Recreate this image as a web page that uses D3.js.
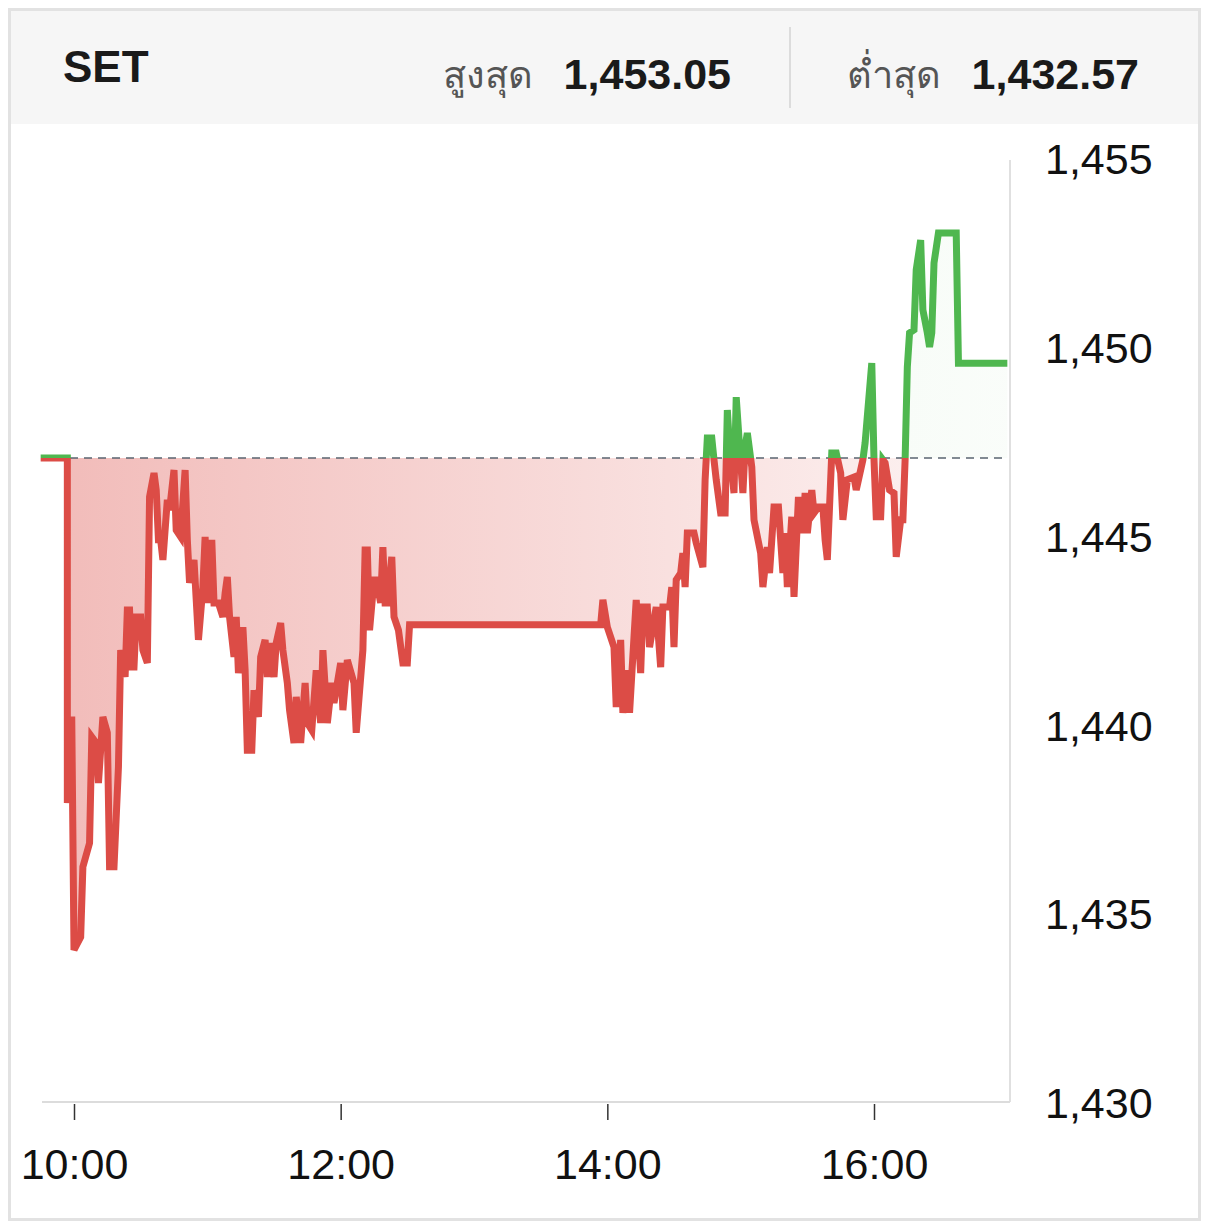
<!DOCTYPE html>
<html>
<head>
<meta charset="utf-8">
<script src="https://cdn.jsdelivr.net/npm/d3@7"></script>
<style>
  html, body { margin: 0; padding: 0; background: #fff; }
  svg { display: block; }
</style>
</head>
<body>
<svg id="chart" width="1215" height="1226"></svg>
<script>
// ---- Data ----
const title = "SET";
const highLabel = "สูงสุด";
const highValue = "1,453.05";
const lowLabel = "ต่ำสุด";
const lowValue = "1,432.57";
const prevClose = 1447.11;

const times = ["09:45","09:57","09:57","09:58","09:59","10:00","10:03","10:04","10:07","10:08",
"10:10","10:11","10:13","10:15","10:16","10:18","10:20","10:21","10:23","10:24",
"10:25","10:26","10:27","10:28","10:30","10:31","10:33","10:34","10:36","10:37",
"10:38","10:39","10:40","10:42","10:43","10:45","10:46","10:48","10:50","10:51",
"10:52","10:54","10:56","10:58","10:59","11:00","11:02","11:03","11:05","11:07",
"11:08","11:09","11:10","11:12","11:13","11:14","11:16","11:17","11:18","11:20",
"11:21","11:23","11:24","11:26","11:27","11:28","11:30","11:31","11:33","11:34",
"11:36","11:37","11:39","11:40","11:42","11:44","11:45","11:47","11:49","11:51",
"11:52","11:54","11:56","11:57","12:00","12:01","12:03","12:06","12:07","12:10",
"12:11","12:12","12:13","12:15","12:16","12:18","12:19","12:20","12:21","12:23",
"12:24","12:26","12:28","12:30","12:31","13:57","13:58","14:00","14:03","14:04",
"14:06","14:07","14:09","14:10","14:12","14:13","14:15","14:16","14:18","14:19",
"14:21","14:22","14:24","14:25","14:28","14:29","14:30","14:31","14:33","14:34",
"14:35","14:36","14:39","14:40","14:43","14:44","14:45","14:47","14:48","14:49",
"14:51","14:53","14:54","14:55","14:57","14:58","14:59","15:01","15:02","15:03",
"15:05","15:06","15:09","15:10","15:12","15:13","15:15","15:17","15:19","15:20",
"15:21","15:23","15:24","15:26","15:28","15:29","15:30","15:32","15:33","15:35",
"15:37","15:38","15:39","15:41","15:43","15:45","15:46","15:48","15:51","15:52",
"15:55","15:56","15:59","16:00","16:01","16:03","16:04","16:05","16:07","16:09",
"16:10","16:12","16:13","16:14","16:15","16:16","16:18","16:19","16:21","16:22",
"16:24","16:25","16:26","16:27","16:29","16:37","16:38","17:00"];

const values = [1447.11,1447.11,1437.97,1440.17,1440.17,1434.08,1434.42,1436.28,1436.91,1439.72,
1439.56,1438.50,1440.25,1439.83,1436.28,1436.28,1438.93,1442.02,1441.31,1443.08,
1443.08,1441.57,1441.57,1442.90,1442.90,1442.02,1441.68,1446.08,1446.71,1446.26,
1444.94,1444.94,1444.41,1446.00,1445.73,1446.79,1445.20,1445.02,1446.79,1444.94,
1443.80,1444.41,1442.29,1443.69,1445.02,1443.27,1444.94,1443.27,1443.27,1442.90,
1443.53,1443.96,1442.90,1441.84,1442.90,1441.41,1442.63,1441.49,1439.37,1439.37,
1440.96,1440.25,1441.84,1442.29,1441.31,1442.21,1441.31,1442.21,1442.74,1442.02,
1441.15,1440.43,1439.56,1440.78,1439.56,1441.15,1440.09,1439.90,1441.49,1440.09,
1442.02,1440.09,1441.15,1440.62,1441.68,1440.43,1441.76,1441.15,1439.83,1442.02,
1444.67,1444.67,1442.55,1443.88,1443.88,1443.27,1444.75,1443.27,1443.27,1444.49,
1442.90,1442.55,1441.68,1441.68,1442.69,1442.69,1443.35,1442.63,1442.10,1440.51,
1442.29,1440.36,1441.49,1440.36,1442.37,1443.35,1441.41,1443.16,1443.16,1442.10,
1442.82,1443.16,1441.57,1443.16,1443.16,1443.69,1442.10,1443.88,1444.06,1444.59,
1443.69,1445.12,1445.12,1444.86,1444.22,1446.53,1447.64,1447.64,1447.06,1446.53,
1445.65,1445.65,1448.38,1447.40,1446.18,1448.72,1447.85,1446.18,1447.40,1447.77,
1446.87,1445.47,1444.59,1443.69,1444.75,1444.06,1445.81,1445.81,1444.06,1445.12,
1443.69,1445.55,1443.43,1446.08,1445.12,1446.18,1445.12,1446.26,1445.65,1445.81,
1445.81,1444.94,1444.41,1447.24,1447.24,1446.71,1445.47,1446.53,1446.60,1446.26,
1447.06,1447.51,1449.62,1447.06,1445.55,1445.55,1447.06,1446.98,1446.26,1446.18,
1444.49,1445.47,1445.47,1447.06,1449.52,1450.42,1450.50,1452.09,1452.88,1451.03,
1450.42,1450.05,1450.42,1452.27,1453.07,1453.07,1449.62,1449.62];

const xTicks = ["10:00","12:00","14:00","16:00"];
const yTicks = [1430,1435,1440,1445,1450,1455];

// ---- Drawing ----
const parse = d3.timeParse("%H:%M");
const data = times.map((t, i) => ({ t: parse(t), v: values[i] }));

const svg = d3.select("#chart");
const W = 1215, H = 1226;
const plot = { left: 42, right: 1010, top: 160, bottom: 1104 };

const x = d3.scaleTime()
  .domain([parse("10:00"), parse("16:00")])
  .range([74, 874]);
const y = d3.scaleLinear()
  .domain([1430, 1455])
  .range([plot.bottom, plot.top]);

const red = "#dc4c46", green = "#4fb74f";
const defs = svg.append("defs");

const gRed = defs.append("linearGradient").attr("id", "gRed")
  .attr("gradientUnits", "userSpaceOnUse")
  .attr("x1", plot.left).attr("x2", plot.right).attr("y1", 0).attr("y2", 0);
gRed.append("stop").attr("offset", 0).attr("stop-color", red).attr("stop-opacity", 0.38);
gRed.append("stop").attr("offset", 1).attr("stop-color", red).attr("stop-opacity", 0.06);

const gGreen = defs.append("linearGradient").attr("id", "gGreen")
  .attr("gradientUnits", "userSpaceOnUse")
  .attr("x1", plot.left).attr("x2", plot.right).attr("y1", 0).attr("y2", 0);
gGreen.append("stop").attr("offset", 0).attr("stop-color", green).attr("stop-opacity", 0.12);
gGreen.append("stop").attr("offset", 1).attr("stop-color", green).attr("stop-opacity", 0.03);

const yBase = y(prevClose);
defs.append("clipPath").attr("id", "clipAbove").append("rect")
  .attr("x", 0).attr("y", 0).attr("width", W).attr("height", yBase);
defs.append("clipPath").attr("id", "clipBelow").append("rect")
  .attr("x", 0).attr("y", yBase).attr("width", W).attr("height", H - yBase);

// Frame
svg.append("rect").attr("x", 9.5).attr("y", 9.5).attr("width", 1190).attr("height", 1210)
  .attr("fill", "#fff").attr("stroke", "#e2e2e2").attr("stroke-width", 3);
svg.append("rect").attr("x", 11).attr("y", 11).attr("width", 1187).attr("height", 113)
  .attr("fill", "#f6f6f6");

// Header texts
const font = "'Liberation Sans', Arial, Helvetica, sans-serif";
svg.append("text").attr("x", 63).attr("y", 82).text(title)
  .attr("font-family", font).attr("font-weight", "bold").attr("font-size", 44).attr("fill", "#1a1a1a");
svg.append("text").attr("x", 533).attr("y", 88).attr("text-anchor", "end").text(highLabel)
  .attr("font-family", font + ", 'Noto Sans', 'DejaVu Sans'").attr("font-size", 38).attr("fill", "#555");
svg.append("text").attr("x", 731).attr("y", 89).attr("text-anchor", "end").text(highValue)
  .attr("font-family", font).attr("font-weight", "bold").attr("font-size", 43).attr("fill", "#1a1a1a");
svg.append("line").attr("x1", 790).attr("x2", 790).attr("y1", 27).attr("y2", 108)
  .attr("stroke", "#dcdcdc").attr("stroke-width", 2);
svg.append("text").attr("x", 941).attr("y", 88).attr("text-anchor", "end").text(lowLabel)
  .attr("font-family", font + ", 'Noto Sans', 'DejaVu Sans'").attr("font-size", 38).attr("fill", "#555");
svg.append("text").attr("x", 1139).attr("y", 89).attr("text-anchor", "end").text(lowValue)
  .attr("font-family", font).attr("font-weight", "bold").attr("font-size", 43).attr("fill", "#1a1a1a");

// Axes lines
svg.append("line").attr("x1", plot.right).attr("x2", plot.right).attr("y1", plot.top).attr("y2", 1102)
  .attr("stroke", "#e0e0e0").attr("stroke-width", 2);
svg.append("line").attr("x1", plot.left).attr("x2", plot.right).attr("y1", 1102).attr("y2", 1102)
  .attr("stroke", "#dcdcdc").attr("stroke-width", 2);

// Area fills
const area = d3.area().x(d => x(d.t)).y0(yBase).y1(d => y(d.v));
svg.append("path").datum(data).attr("d", area).attr("fill", "url(#gRed)").attr("clip-path", "url(#clipBelow)");
svg.append("path").datum(data).attr("d", area).attr("fill", "url(#gGreen)").attr("clip-path", "url(#clipAbove)");

// Baseline (previous close)
svg.append("line").attr("x1", plot.left).attr("x2", 1008).attr("y1", yBase).attr("y2", yBase)
  .attr("stroke", "#5a6470").attr("stroke-width", 1.5).attr("stroke-dasharray", "8,6");

// Lines
const line = d3.line().x(d => x(d.t)).y(d => y(d.v));
svg.append("path").datum(data).attr("d", line).attr("fill", "none")
  .attr("stroke", red).attr("stroke-width", 7).attr("stroke-linejoin", "miter")
  .attr("clip-path", "url(#clipBelow)");
svg.append("path").datum(data).attr("d", line).attr("fill", "none")
  .attr("stroke", green).attr("stroke-width", 7).attr("stroke-linejoin", "miter")
  .attr("clip-path", "url(#clipAbove)");

// X axis
const xAxis = d3.axisBottom(x)
  .tickValues(xTicks.map(parse))
  .tickFormat(d3.timeFormat("%H:%M"))
  .tickSize(16).tickPadding(28);
const gx = svg.append("g").attr("transform", "translate(0,1104)").call(xAxis);
gx.select(".domain").remove();
gx.selectAll(".tick line").attr("stroke", "#333").attr("stroke-width", 1.5);
gx.selectAll(".tick text").attr("font-family", font).attr("font-size", 43).attr("fill", "#111");

// Y axis
const yAxis = d3.axisRight(y).tickValues(yTicks).tickFormat(d3.format(",")).tickSize(0).tickPadding(35);
const gy = svg.append("g").attr("transform", `translate(${plot.right},0)`).call(yAxis);
gy.select(".domain").remove();
gy.selectAll(".tick text").attr("font-family", font).attr("font-size", 43).attr("fill", "#111");
</script>
</body>
</html>
